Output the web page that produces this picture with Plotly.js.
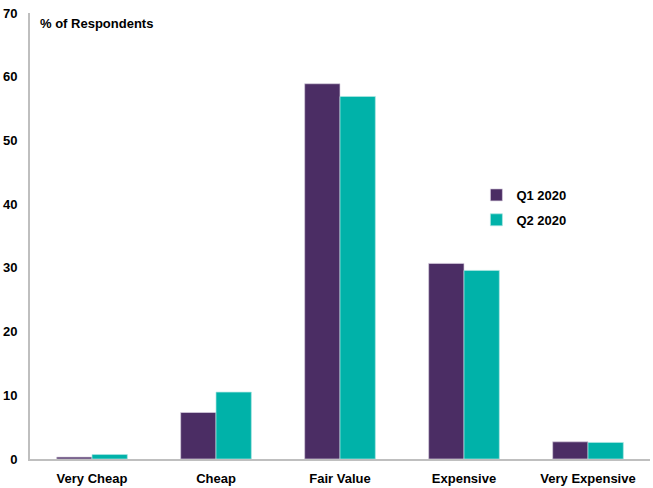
<!DOCTYPE html>
<html>
<head>
<meta charset="utf-8">
<script src="https://cdn.plot.ly/plotly-3.0.1.min.js"></script>
<style>html,body{margin:0;padding:0;background:#fff;}#chart{width:653px;height:488px;}</style>
</head>
<body>
<div id="chart"></div>
<script>
var categories = ["Very Cheap", "Cheap", "Fair Value", "Expensive", "Very Expensive"];
var q1Values = [0.3, 7.3, 58.9, 30.7, 2.7];
var q2Values = [0.7, 10.5, 56.9, 29.6, 2.6];
var seriesNames = ["Q1 2020", "Q2 2020"];
var yTicks = [0, 10, 20, 30, 40, 50, 60, 70];

var fontFam = "Liberation Sans, Arial, sans-serif";
var traces = [
  {type: "bar", name: seriesNames[0], x: categories, y: q1Values,
   marker: {color: "#4B2D64", line: {color: "#d8d0e0", width: 0.7}}, legendgroup: "a"},
  {type: "bar", name: seriesNames[1], x: categories, y: q2Values,
   marker: {color: "#00B2A9", line: {color: "#b0e6e2", width: 0.7}}, legendgroup: "b"}
];
var layout = {
  width: 653, height: 488,
  margin: {l: 30, r: 3, t: 13, b: 29},
  paper_bgcolor: "#fff", plot_bgcolor: "#fff",
  font: {family: fontFam, size: 13, color: "#000"},
  barmode: "group", bargap: 0.43, bargroupgap: 0,
  showlegend: true,
  legend: {x: 0.72, y: 0.564, xanchor: "left", yanchor: "middle",
    font: {family: fontFam, size: 13, color: "#000", weight: "bold"},
    traceorder: "grouped", tracegroupgap: 5, itemwidth: 30, bgcolor: "rgba(0,0,0,0)"},
  xaxis: {showline: true, linecolor: "#BFBFBF", linewidth: 2, ticks: "",
    tickfont: {family: fontFam, size: 13, color: "#000", weight: "bold"},
    ticklabelstandoff: 6, showgrid: false, zeroline: false, fixedrange: true},
  yaxis: {range: [0, 70], tickvals: yTicks, showline: true, linecolor: "#BFBFBF", linewidth: 2,
    ticks: "", showgrid: false, zeroline: false,
    tickfont: {family: fontFam, size: 13, color: "#000", weight: "bold"},
    ticklabelstandoff: 8},
  annotations: [{text: "% of Respondents", xref: "paper", yref: "paper", x: 0.013, y: 0.998,
    xanchor: "left", yanchor: "top", showarrow: false,
    font: {family: fontFam, size: 13, color: "#000", weight: "bold"}}]
};
Plotly.newPlot("chart", traces, layout, {displayModeBar: false, staticPlot: true});
</script>
</body>
</html>
